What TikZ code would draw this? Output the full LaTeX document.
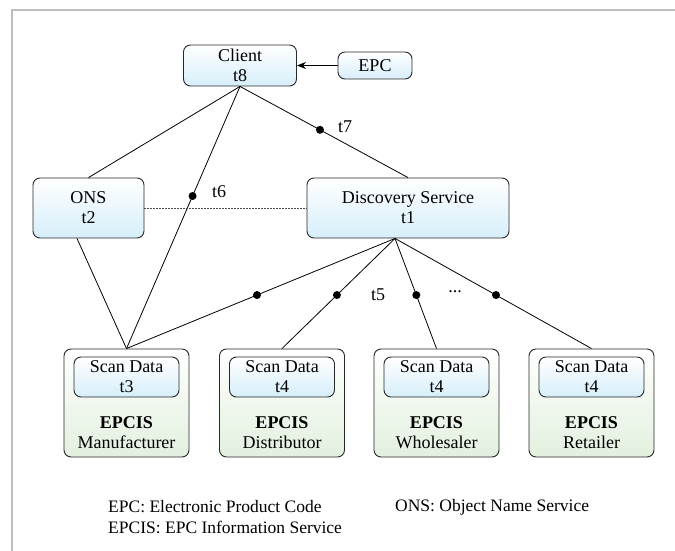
\documentclass[tikz,border=0pt]{standalone}
\usepackage{fontspec}
\setmainfont{Liberation Serif}
\usetikzlibrary{arrows.meta,shapes.misc}
\definecolor{frame}{RGB}{190,190,190}
\definecolor{bluebot}{RGB}{214,238,250}
\definecolor{greenbot}{RGB}{226,240,222}
\definecolor{edge}{RGB}{40,40,40}
\tikzset{
  base/.style={draw=edge, line width=0.9pt, rounded corners=7pt, align=center, inner sep=0pt,
    font=\fontsize{18}{20}\selectfont},
  bluebox/.style={base, top color=white, bottom color=bluebot},
  greenbox/.style={base, top color=white, bottom color=greenbot},
  conn/.style={draw=black, line width=0.8pt},
  dot/.style={circle, fill=black, inner sep=0pt, minimum size=8pt},
  lbl/.style={font=\fontsize{18}{20}\selectfont, inner sep=0pt},
  legend/.style={font=\fontsize{17.5}{20}\selectfont, inner sep=0pt, anchor=west},
  framel/.style={draw=frame, line width=2pt}
}
\begin{document}
\begin{tikzpicture}[x=1pt,y=-1pt]
\useasboundingbox (0,0) rectangle (675,551);
\coordinate (f1) at (675,10);
\coordinate (f2) at (12,10);
\coordinate (f3) at (12,551);
\draw[framel] (f1) -- (f2) -- (f3);

% top row
\node[bluebox, minimum width=113pt, minimum height=41pt] (client) at (240,65.5) {Client\\t8};
\node[bluebox, minimum width=74pt, minimum height=27pt] (epc) at (375,65.5) {EPC};
\node[bluebox, minimum width=111pt, minimum height=60pt] (ons) at (88.5,208) {ONS\\t2};
\node[bluebox, minimum width=202pt, minimum height=60pt] (ds) at (408,208) {Discovery Service\\t1};

% bottom boxes
\foreach \n/\x/\t/\r in {man/126.5/t3/Manufacturer, dis/282/t4/Distributor, who/436.5/t4/Wholesaler, ret/591.5/t4/Retailer}{
  \node[greenbox, minimum width=125pt, minimum height=108pt] (\n) at (\x,403) {};
  \node[bluebox, minimum width=105pt, minimum height=40pt] (\n s) at (\x,377) {Scan Data\\\t};
  \node[lbl, align=center] (\n l) at (\x,433) {\textbf{EPCIS}\\\r};
}

% connectors
\draw[-{Stealth[length=9pt,width=7pt]}, conn] (epc.west) -- (client.east);
\draw[conn] (client.south) -- (ons.north);
\draw[conn] (client.south) -- (ds.north) node[dot, pos=0.476] (d7) {};
\draw[conn] (client.south) -- (man.north) node[dot, pos=0.418] (d6) {};
\draw[conn] ([xshift=-11.5pt]ons.south) -- (man.north);
\draw[conn, frame!40!black, dash pattern=on 1.6pt off 1.4pt] (ons.east) -- (ds.west);
\coordinate (dsb) at ([xshift=-13pt]ds.south);
\draw[conn] (dsb) -- (man.north) node[dot, pos=0.514] (d5a) {};
\draw[conn] (dsb) -- (dis.north) node[dot, pos=0.514] (d5b) {};
\draw[conn] (dsb) -- (who.north) node[dot, pos=0.514] (d5c) {};
\draw[conn] (dsb) -- (ret.north) node[dot, pos=0.514] (d5d) {};

% labels
\node[lbl] (t7) at (345,127) {t7};
\node[lbl] (t6) at (219,192) {t6};
\node[lbl] (t5) at (378,295) {t5};
\node[lbl] (ell) at (455,292) {...};

% legend
\node[legend] (lg1) at (108,507) {EPC: Electronic Product Code};
\node[legend] (lg2) at (108,527) {EPCIS: EPC Information Service};
\node[legend] (lg3) at (395,507) {ONS: Object Name Service};
\end{tikzpicture}
\end{document}
